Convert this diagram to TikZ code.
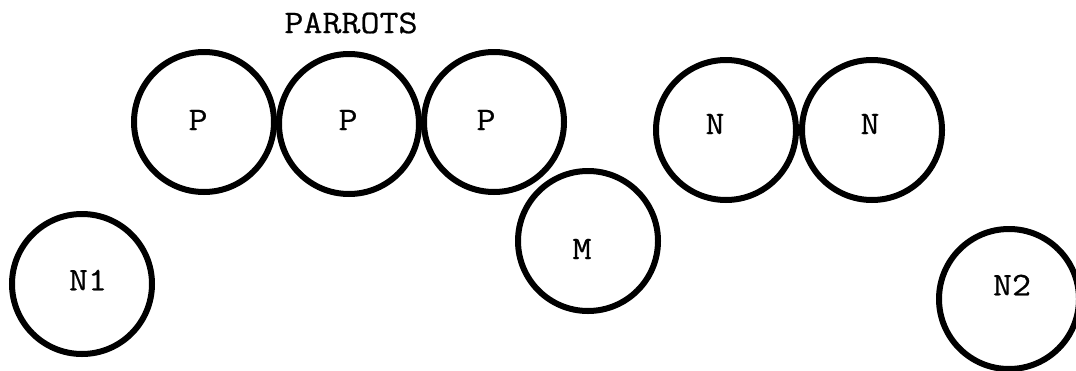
\documentclass[tikz,border=0pt]{standalone}
\usepackage{fontspec}
\setmonofont[FakeBold=0.6,FakeStretch=1.12]{Latin Modern Mono}
\begin{document}
\begin{tikzpicture}[x=1pt,y=-1pt,
  ring/.style={draw=black, line width=6pt, circle, minimum size=140pt, inner sep=0pt},
  tag/.style={font=\ttfamily\fontsize{33}{33}\selectfont, text=black, inner sep=0pt}]
  \useasboundingbox[fill=white] (0,0) rectangle (1076,370);

  % title over the parrot circles
  \node[tag] (title) at (351,23) {PARROTS};

  % top row: three parrots, then two N circles
  \node[ring] (p1) at (204,122) {};
  \node[ring] (p2) at (349,124) {};
  \node[ring] (p3) at (494,122) {};
  \node[ring] (n1) at (726,130) {};
  \node[ring] (n2) at (872,130) {};

  % lower circles
  \node[ring] (m)  at (588,241) {};
  \node[ring] (na) at (82,284) {};
  \node[ring] (nb) at (1009,299) {};

  % circle labels
  \node[tag] (p1t) at (198,120) {P};
  \node[tag] (p2t) at (348,120) {P};
  \node[tag] (p3t) at (486,120) {P};
  \node[tag] (n1t) at (715,124) {N};
  \node[tag] (n2t) at (870,124) {N};
  \node[tag] (mt)  at (582,249) {M};
  \node[tag] (nat) at (88,280) {N1};
  \node[tag] (nbt) at (1012,285) {N2};
\end{tikzpicture}
\end{document}
